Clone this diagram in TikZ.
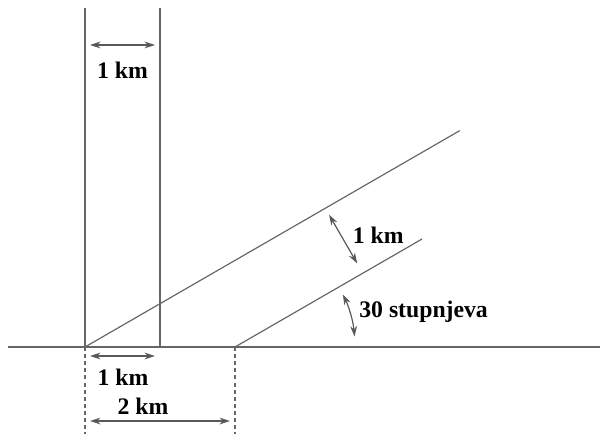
\documentclass[tikz,border=0pt]{standalone}
\usepackage{fontspec}
\setmainfont{Liberation Serif}
\usetikzlibrary{arrows.meta,calc}
\begin{document}
\begin{tikzpicture}[line width=0.45pt,
  ln/.style={draw=black!60},
  dim/.style={draw=black!65,{Stealth[length=4pt,width=2.6pt]}-{Stealth[length=4pt,width=2.6pt]}},
  lbl/.style={font=\fontsize{9}{10}\selectfont\bfseries,inner sep=0pt}]
  \useasboundingbox (-1.1333,-1.16) rectangle (6.8667,4.6267);
  \coordinate (O) at (0,0);
  \coordinate (B) at (2,0);
  \coordinate (L) at (-1.03,0);
  \coordinate (R) at (6.8667,0);
  \coordinate (T1) at (0,4.52);
  \coordinate (T2) at (1,4.52);
  \coordinate (Q1) at (1,0);
  \coordinate (U) at (30:5.77);
  \coordinate (V) at ($(B)+(30:2.88)$);
  \draw[ln] (L) -- (R);
  \draw[ln] (O) -- (T1);
  \draw[ln] (Q1) -- (T2);
  \draw[ln] (O) -- (U);
  \draw[ln] (B) -- (V);
  \draw[ln,dashed,dash pattern=on 1.5pt off 1.2pt] (O) -- (0,-1.16);
  \draw[ln,dashed,dash pattern=on 1.5pt off 1.2pt] (B) -- (2,-1.16);
  % top
  \coordinate (a1) at (0.067,4.027);
  \coordinate (a2) at (0.933,4.027);
  \draw[dim] (a1) -- (a2);
  \node[lbl] (top) at (0.5,3.69) {1 km};
  % across the two slanted lines
  \coordinate (p1) at ($(30:3.7)+(-60:0.1)$);
  \coordinate (p2) at ($(30:3.7)+(-60:0.85)$);
  \draw[dim] (p1) -- (p2);
  \node[lbl] (mid) at (3.91,1.49) {1 km};
  % angle
  \draw[dim] ([shift={(26:1.6)}]B) arc[start angle=26,end angle=5,radius=1.6];
  \node[lbl,anchor=west] (ang) at (3.65,0.467) {30 stupnjeva};
  % bottom
  \coordinate (b1) at (0.067,-0.12);
  \coordinate (b2) at (0.933,-0.12);
  \draw[dim] (b1) -- (b2);
  \node[lbl] (one) at (0.507,-0.41) {1 km};
  \coordinate (c1) at (0.067,-0.987);
  \coordinate (c2) at (1.933,-0.987);
  \draw[dim] (c1) -- (c2);
  \node[lbl] (two) at (0.773,-0.787) {2 km};
\end{tikzpicture}
\end{document}
